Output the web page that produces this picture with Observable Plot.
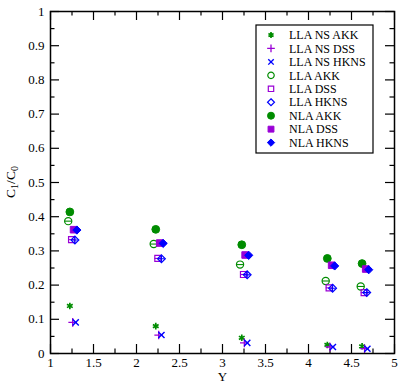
<!DOCTYPE html>
<html>
<head>
<meta charset="utf-8">
<script src="https://cdn.jsdelivr.net/npm/d3@7"></script>
<script src="https://cdn.jsdelivr.net/npm/@observablehq/plot@0.6"></script>
<style>
  html, body { margin: 0; padding: 0; background: #fff; }
  #chart { position: relative; width: 398px; height: 384px; }
  #chart svg, #chart svg text, #chart svg g { font-family: "Liberation Serif", "Times New Roman", serif !important; }
</style>
</head>
<body>
<div id="chart"></div>
<script>
// ---- data ----
const seriesNames = ["LLA NS AKK", "LLA NS DSS", "LLA NS HKNS", "LLA AKK", "LLA DSS", "LLA HKNS", "NLA AKK", "NLA DSS", "NLA HKNS"];

const llaNsAkkX  = [1.225, 2.224, 3.224, 4.219, 4.623];
const llaNsAkkY  = [0.139, 0.080, 0.046, 0.025, 0.021];
const llaNsDssX  = [1.258, 2.258, 3.254, 4.250, 4.652];
const llaNsDssY  = [0.091, 0.054, 0.031, 0.019, 0.014];
const llaNsHknsX = [1.293, 2.290, 3.288, 4.284, 4.685];
const llaNsHknsY = [0.091, 0.054, 0.031, 0.019, 0.014];
const llaAkkX    = [1.206, 2.200, 3.204, 4.200, 4.607];
const llaAkkY    = [0.387, 0.320, 0.260, 0.212, 0.196];
const llaDssX    = [1.245, 2.248, 3.244, 4.240, 4.647];
const llaDssY    = [0.333, 0.278, 0.231, 0.192, 0.178];
const llaHknsX   = [1.284, 2.290, 3.287, 4.280, 4.677];
const llaHknsY   = [0.332, 0.277, 0.230, 0.191, 0.178];
const nlaAkkX    = [1.225, 2.224, 3.224, 4.219, 4.623];
const nlaAkkY    = [0.414, 0.363, 0.318, 0.278, 0.263];
const nlaDssX    = [1.268, 2.270, 3.263, 4.269, 4.665];
const nlaDssY    = [0.362, 0.323, 0.288, 0.258, 0.247];
const nlaHknsX   = [1.307, 2.310, 3.305, 4.304, 4.700];
const nlaHknsY   = [0.361, 0.322, 0.287, 0.256, 0.245];

const xMajorTicks = [1, 1.5, 2, 2.5, 3, 3.5, 4, 4.5, 5];
const xMinorTicks = [1.25, 1.75, 2.25, 2.75, 3.25, 3.75, 4.25, 4.75];
const yMajorTicks = [0, 0.1, 0.2, 0.3, 0.4, 0.5, 0.6, 0.7, 0.8, 0.9, 1];
const yMinorTicks = [0.05, 0.15, 0.25, 0.35, 0.45, 0.55, 0.65, 0.75, 0.85, 0.95];

const xLabel = "Y";

// ---- styles ----
const FONT = "'Liberation Serif', 'Times New Roman', serif";
const GREEN = "#008c00", PURPLE = "#9a00d6", BLUE = "#0000ff";
const styles = [
  {symbol: "asterisk", color: GREEN,  filled: false, stroke: 1.7, r: 3.1},
  {symbol: "plus",     color: PURPLE, filled: false, stroke: 1.3, r: 2.9},
  {symbol: "times",    color: BLUE,   filled: false, stroke: 1.4, r: 2.9},
  {symbol: "circle",   color: GREEN,  filled: false, stroke: 1.2, r: 3.6, inner: "minus"},
  {symbol: "square",   color: PURPLE, filled: false, stroke: 1.2, r: 3.4, inner: "minus"},
  {symbol: "diamond2", color: BLUE,   filled: false, stroke: 1.2, r: 3.5, inner: "plus"},
  {symbol: "circle",   color: GREEN,  filled: true,  stroke: 1.0, r: 3.9},
  {symbol: "square",   color: PURPLE, filled: true,  stroke: 1.0, r: 3.7},
  {symbol: "diamond2", color: BLUE,   filled: true,  stroke: 1.0, r: 3.7}
];

const xs = [llaNsAkkX, llaNsDssX, llaNsHknsX, llaAkkX, llaDssX, llaHknsX, nlaAkkX, nlaDssX, nlaHknsX];
const ys = [llaNsAkkY, llaNsDssY, llaNsHknsY, llaAkkY, llaDssY, llaHknsY, nlaAkkY, nlaDssY, nlaHknsY];
const series = seriesNames.map((name, i) => ({
  name, style: styles[i],
  rows: xs[i].map((x, j) => ({x, y: ys[i][j]}))
}));

const innerSymbols = {
  minus: {draw(ctx, size) { const r = Math.sqrt(size / Math.PI); ctx.moveTo(-r, 0); ctx.lineTo(r, 0); }},
  plus:  {draw(ctx, size) { const r = Math.sqrt(size / Math.PI) * 0.85; ctx.moveTo(-r, 0); ctx.lineTo(r, 0); ctx.moveTo(0, -r); ctx.lineTo(0, r); }}
};

const W = 398, H = 384, mL = 50, mR = 4, mT = 11, mB = 31;
const innerW = W - mL - mR, innerH = H - mT - mB;
const MAJ = 9, MIN = 4.5;

const marks = [];
// inward ticks on all four sides
marks.push(Plot.ruleX(xMajorTicks, {x: d => d, insetTop: innerH - MAJ, stroke: "black", strokeWidth: 1.2}));
marks.push(Plot.ruleX(xMajorTicks, {x: d => d, insetBottom: innerH - MAJ, stroke: "black", strokeWidth: 1.2}));
marks.push(Plot.ruleX(xMinorTicks, {x: d => d, insetTop: innerH - MIN, stroke: "black", strokeWidth: 1.2}));
marks.push(Plot.ruleX(xMinorTicks, {x: d => d, insetBottom: innerH - MIN, stroke: "black", strokeWidth: 1.2}));
marks.push(Plot.ruleY(yMajorTicks, {y: d => d, insetRight: innerW - MAJ, stroke: "black", strokeWidth: 1.2}));
marks.push(Plot.ruleY(yMajorTicks, {y: d => d, insetLeft: innerW - MAJ, stroke: "black", strokeWidth: 1.2}));
marks.push(Plot.ruleY(yMinorTicks, {y: d => d, insetRight: innerW - MIN, stroke: "black", strokeWidth: 1.2}));
marks.push(Plot.ruleY(yMinorTicks, {y: d => d, insetLeft: innerW - MIN, stroke: "black", strokeWidth: 1.2}));

for (const s of series) {
  const st = s.style;
  marks.push(Plot.dot(s.rows, {
    x: "x", y: "y", symbol: st.symbol, r: st.r,
    fill: st.filled ? st.color : "none",
    stroke: st.color, strokeWidth: st.stroke
  }));
  if (st.inner) {
    marks.push(Plot.dot(s.rows, {
      x: "x", y: "y", symbol: innerSymbols[st.inner], r: st.r,
      fill: "none", stroke: st.color, strokeWidth: 1.1
    }));
  }
}
marks.push(Plot.frame({stroke: "black", strokeWidth: 1.5}));
marks.push(Plot.text([xLabel], {text: d => d, frameAnchor: "bottom", dy: 27.5, fontSize: 13}));

const chart = Plot.plot({
  width: W, height: H,
  marginLeft: mL, marginRight: mR, marginTop: mT, marginBottom: mB,
  style: `font-family: ${FONT}; font-size: 13px; color: black; background: white;`,
  x: {domain: [1, 5], ticks: xMajorTicks, tickSize: 0, tickPadding: 4, tickFormat: d => `${d}`, label: null},
  y: {domain: [0, 1], ticks: yMajorTicks, tickSize: 0, tickPadding: 6, tickFormat: d => `${d}`, label: null},
  marks
});
document.getElementById("chart").appendChild(chart);

// y-axis label with subscripts
const svg = d3.select(chart.tagName.toLowerCase() === "svg" ? chart : chart.querySelector("svg"));
const yl = svg.append("text")
  .attr("transform", `translate(15,${mT + innerH / 2}) rotate(-90)`)
  .attr("text-anchor", "middle")
  .style("font-family", FONT)
  .style("font-size", "13.5px")
  .style("fill", "black");
yl.append("tspan").text("C");
yl.append("tspan").style("font-size", "10px").attr("dy", 3).text("1");
yl.append("tspan").attr("dy", -3).text("/C");
yl.append("tspan").style("font-size", "10px").attr("dy", 3).text("0");

// legend box
const lg = svg.append("g").attr("transform", "translate(256,25)");
lg.append("rect").attr("x", 0).attr("y", 0).attr("width", 117).attr("height", 128)
  .style("fill", "white").style("stroke", "black").style("stroke-width", "1.2px");
const d3sym = {asterisk: d3.symbolAsterisk, plus: d3.symbolPlus, times: d3.symbolTimes,
  circle: d3.symbolCircle, square: d3.symbolSquare, diamond2: d3.symbolDiamond2};
series.forEach((s, i) => {
  const st = s.style;
  const yy = 10 + i * 13.45;
  lg.append("path")
    .attr("transform", `translate(15,${yy})`)
    .attr("d", d3.symbol(d3sym[st.symbol], Math.PI * st.r * st.r * 0.8)())
    .style("fill", st.filled ? st.color : "none")
    .style("stroke", st.color).style("stroke-width", st.stroke + "px");
  lg.append("text")
    .attr("x", 33).attr("y", yy).attr("dy", "0.35em")
    .attr("text-anchor", "start")
    .style("font-family", FONT)
    .style("font-size", "12px").style("fill", "black")
    .text(s.name);
});
</script>
</body>
</html>
